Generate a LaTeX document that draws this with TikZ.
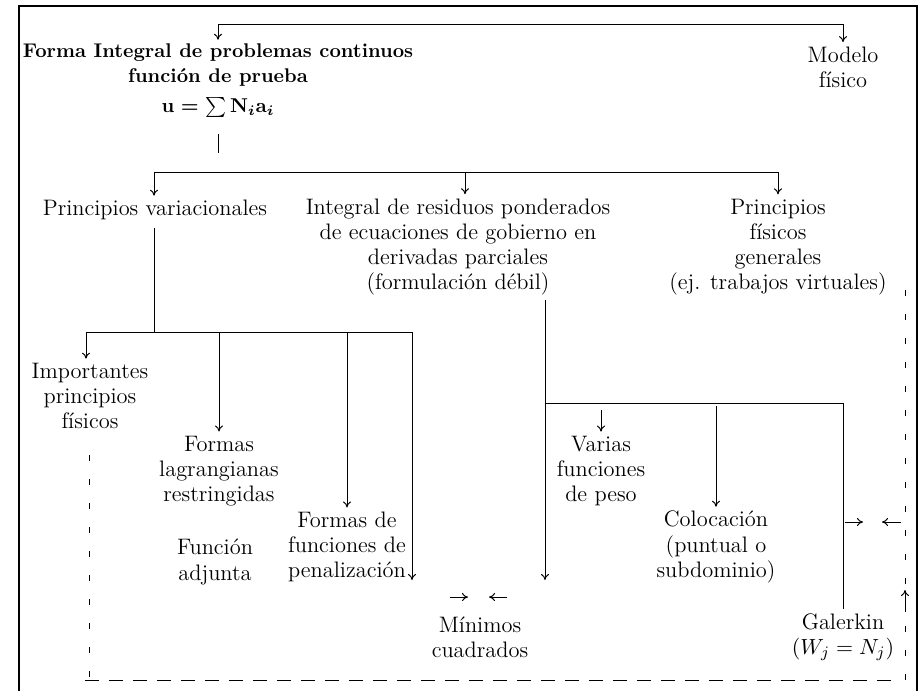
\documentclass[tikz,border=0pt]{standalone}
\usepackage{amsmath}
\usetikzlibrary{arrows.meta,calc}

\begin{document}
\begin{tikzpicture}[
  x=0.5pt,y=-0.5pt,
  font=\fontsize{11.2}{12.6}\selectfont,
  ln/.style={line width=0.5pt},
  ar/.style={-{To[length=3pt,width=4pt]},line width=0.5pt},
  dsv/.style={line width=0.5pt,dash pattern=on 3pt off 9pt},
  dsh/.style={line width=0.5pt,dash pattern=on 7pt off 5pt},
  txt/.style={align=center,inner sep=2pt},
]
\useasboundingbox (0,0) rectangle (923,691);

% outer frame (open at the bottom)
\draw[line width=0.7pt] (19,691) -- (19,6) -- (917,6) -- (917,691);

% ====================================================== top level
\node[txt,font=\fontsize{9.9}{12.5}\selectfont\bfseries] (forma) at (218,81)
  {Forma Integral de problemas continuos\\
   funci\'on de prueba\\[2.5pt]
   {\boldmath$\mathbf{u}=\sum\mathbf{N}_i\mathbf{a}_i$}};
\node[txt] (modelo) at (843,67) {Modelo\\f\'isico};

\coordinate (t1) at (218,24);
\draw[ar] (t1) -- (forma.north);
\draw[ar] (t1) -| (modelo.north);

% ====================================================== second level
\node[txt] (pvar) at (155,210) {Principios variacionales};
\node[txt] (integral) at (458,247)
  {Integral de residuos ponderados\\
   de ecuaciones de gobierno en\\
   derivadas parciales\\
   (formulaci\'on d\'ebil)};
\node[txt] (pfis) at (778,247)
  {Principios\\f\'isicos\\generales\\(ej. trabajos virtuales)};

\coordinate (b0) at (218,153);
\coordinate (h2L) at (154,172);
\coordinate (h2R) at (778,172);
\draw[ln] ($(forma.south)+(0,12)$) -- (b0);
\draw[ln] (h2L) -- (h2R);
\draw[ar] (h2L) -- (pvar.north -| h2L);
\draw[ar] (465,172) -- (integral.north -| 465,0);
\draw[ar] (h2R) -- (pfis.north);

% ====================================================== variational branch
\node[txt] (import) at (90,396) {Importantes\\principios\\f\'isicos};
\node[txt] (lagr) at (219,471) {Formas\\lagrangianas\\restringidas};
\node[txt] (adjunta) at (215,562) {Funci\'on\\adjunta};
\node[txt] (penal) at (347,547) {Formas de\\funciones de\\penalizaci\'on};

\coordinate (h3) at (154,332);
\coordinate (h3L) at (86,332);
\coordinate (h3R) at (412,332);
\coordinate (p4) at (412,580);
\draw[ln] ($(pvar.south -| h3)+(0,4)$) -- (h3);
\draw[ln] (h3L) -- (h3R);
\draw[ar] (h3L) -- (import.north -| h3L);
\draw[ar] (lagr.north |- h3) -- (lagr.north);
\draw[ar] (penal.north |- h3) -- (penal.north);
\draw[ar] (h3R) -- (p4);

% ====================================================== weighted residuals branch
\node[txt] (varias) at (601,471) {Varias\\funciones\\de peso};
\node[txt] (coloc) at (716,547) {Colocaci\'on\\(puntual o\\subdominio)};
\node[txt] (minimos) at (480,637) {M\'inimos\\cuadrados};
\node[txt] (galerkin) at (843,637) {Galerkin\\$(W_j=N_j)$};

\coordinate (w0) at (545,403);
\coordinate (w1) at (843,403);
\coordinate (wt) at (545,300);
\coordinate (wend) at (545,580);
\draw[ar] (wt) -- (wend);
\draw[ln] (w0) -- (w1);
\draw[ln] (w1) -- (galerkin.north);
\draw[ar] ($(varias.north)+(0,-22)$) -- (varias.north);
\draw[ar] (coloc.north |- 0,406) -- (coloc.north);

% converging arrows
\draw[ar] ($(minimos.north)+(-30,-15)$) -- ++(18,0);
\draw[ar] ($(minimos.north)+(27,-15)$) -- ++(-18,0);
\draw[ar] (845,522) -- (863,522);
\draw[ar] (901,522) -- (882,522);

% dashed loop
\coordinate (d0) at (89,455);
\coordinate (d1) at (89,680);
\coordinate (d2) at (905,680);
\coordinate (d3) at (905,290);
\draw[dsv] (d0) -- (d1);
\draw[dsh] (85,680) -- (897,680);
\draw[dsv] (d2) -- (d3);
\draw[ar] (905,612) -- (905,590);

\end{tikzpicture}
\end{document}
